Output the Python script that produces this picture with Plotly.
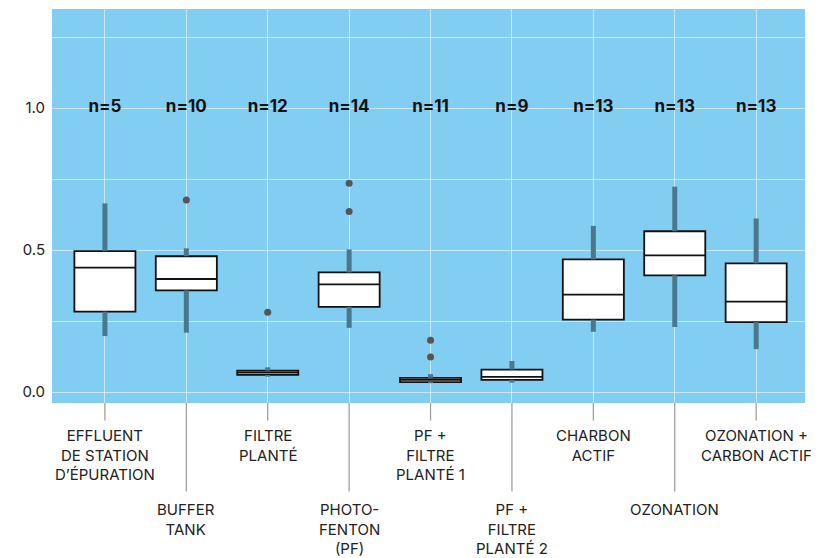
import plotly.graph_objects as go

categories = ["EFFLUENT<br>DE STATION<br>D’ÉPURATION", "BUFFER<br>TANK", "FILTRE<br>PLANTÉ",
              "PHOTO-<br>FENTON<br>(PF)", "PF +<br>FILTRE<br>PLANTÉ 1", "PF +<br>FILTRE<br>PLANTÉ 2",
              "CHARBON<br>ACTIF", "OZONATION", "OZONATION +<br>CARBON ACTIF"]
keys = ["c%d" % i for i in range(len(categories))]
n_counts = [5, 10, 12, 14, 11, 9, 13, 13, 13]
whisker_low = [0.197, 0.209, 0.054, 0.226, 0.031, 0.033, 0.212, 0.229, 0.151]
q1 = [0.283, 0.358, 0.060, 0.300, 0.035, 0.043, 0.255, 0.411, 0.246]
median = [0.438, 0.398, 0.068, 0.379, 0.043, 0.053, 0.343, 0.481, 0.318]
q3 = [0.496, 0.478, 0.075, 0.421, 0.050, 0.079, 0.467, 0.566, 0.453]
whisker_high = [0.664, 0.506, 0.087, 0.502, 0.063, 0.109, 0.585, 0.723, 0.611]
outlier_cat = [1, 2, 3, 3, 4, 4]
outlier_val = [0.676, 0.281, 0.735, 0.636, 0.182, 0.123]

FONT = "Inter, Roboto, sans-serif"

fig = go.Figure()

# whiskers (thick translucent lines outside the boxes)
wx, wy = [], []
for k, lo, a, b, hi in zip(keys, whisker_low, q1, q3, whisker_high):
    wx += [k, k, None, k, k, None]
    wy += [lo, a, None, b, hi, None]
fig.add_trace(go.Scatter(x=wx, y=wy, mode="lines",
                         line=dict(color="#4b778c", width=5),
                         hoverinfo="skip", showlegend=False))

# boxes
fig.add_trace(go.Box(x=keys, q1=q1, median=median, q3=q3,
                     lowerfence=q1, upperfence=q3,
                     fillcolor="white", line=dict(color="#111111", width=1.8),
                     width=0.75, boxpoints=False, showlegend=False))

# outliers
fig.add_trace(go.Scatter(x=[keys[i] for i in outlier_cat], y=outlier_val, mode="markers",
                         marker=dict(color="#555555", size=7),
                         showlegend=False))

# n= labels
fig.add_trace(go.Scatter(x=keys, y=[1.0] * len(keys), mode="text",
                         text=["<b>n=%d</b>" % n for n in n_counts],
                         textfont=dict(family=FONT, size=17, color="#111111"),
                         showlegend=False, hoverinfo="skip"))

# staggered category labels with leader ticks
annotations = []
for i, (k, lab) in enumerate(zip(keys, categories)):
    low = (i % 2 == 1)
    tick_len = 90 if low else 19
    label_shift = 95 if low else 21
    annotations.append(dict(x=k, xref="x", y=0, yref="paper", text="",
                            showarrow=True, arrowhead=0, arrowwidth=1.2,
                            arrowcolor="#999999", ax=0, ay=tick_len,
                            standoff=0, startstandoff=0))
    annotations.append(dict(x=k, xref="x", y=0, yref="paper", text=lab,
                            showarrow=False, xanchor="center", yanchor="top",
                            yshift=-label_shift, align="center",
                            font=dict(family=FONT, size=15, color="#222222")))

fig.update_layout(
    width=811, height=550,
    margin=dict(l=44, r=14, t=1, b=155),
    paper_bgcolor="white",
    plot_bgcolor="#82cdf2",
    annotations=annotations,
    showlegend=False,
)
fig.update_xaxes(type="category", categoryorder="array", categoryarray=keys,
                 range=[-0.65, 8.6], showticklabels=False, ticks="",
                 showgrid=True, gridcolor="rgba(255,255,255,0.55)", gridwidth=1,
                 zeroline=False, showline=False)
fig.update_yaxes(range=[-0.0387, 1.3486], tickvals=[0, 0.5, 1.0],
                 ticktext=["0.0", "0.5", "1.0"],
                 tickfont=dict(family=FONT, size=15, color="#222222"),
                 showgrid=True, gridcolor="rgba(255,255,255,0.55)", gridwidth=1,
                 minor=dict(tickvals=[0.25, 0.75, 1.25], showgrid=True,
                            gridcolor="rgba(255,255,255,0.55)", gridwidth=1),
                 zeroline=False, showline=False, ticks="", ticklabelstandoff=6)

fig.write_html("out.html")
